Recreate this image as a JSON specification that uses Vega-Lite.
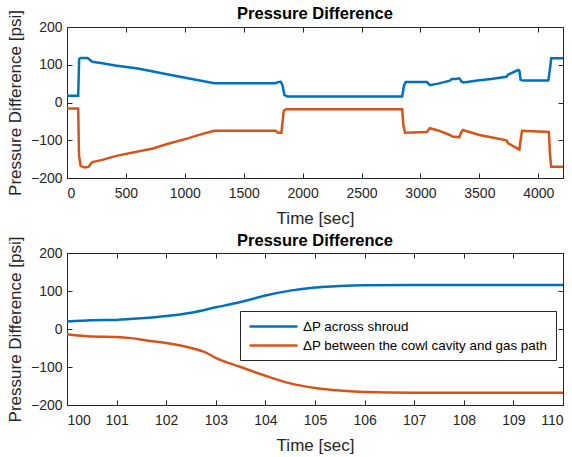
{
  "$schema": "https://vega.github.io/schema/vega-lite/v6.json",
  "padding": {"left": 5, "top": 5, "right": 0, "bottom": 0},
  "background": "white",
  "config": {
    "font": "Liberation Sans",
    "view": {"stroke": "#262626", "strokeWidth": 1},
    "axis": {
      "domain": false,
      "grid": true,
      "gridColor": "#e3e3e3",
      "gridWidth": 1,
      "tickColor": "#262626",
      "tickSize": -5,
      "labelColor": "#262626",
      "labelFontSize": 14,
      "labelFont": "Liberation Sans",
      "titleColor": "#262626",
      "titleFontSize": 17,
      "titleFontWeight": "normal",
      "titleFont": "Liberation Sans",
      "format": "d"
    },
    "axisX": {"labelPadding": 13, "titlePadding": 10},
    "axisY": {"labelPadding": 10, "titlePadding": 6},
    "title": {"fontSize": 16.5, "fontWeight": "bold", "font": "Liberation Sans", "color": "#000000", "offset": -13},
    "line": {"strokeWidth": 2.5}
  },
  "datasets": {
    "top": [
      {"t": 0, "v": 18, "s": "ΔP across shroud"},
      {"t": 95, "v": 18, "s": "ΔP across shroud"},
      {"t": 103, "v": 115, "s": "ΔP across shroud"},
      {"t": 115, "v": 118, "s": "ΔP across shroud"},
      {"t": 175, "v": 118, "s": "ΔP across shroud"},
      {"t": 190, "v": 114, "s": "ΔP across shroud"},
      {"t": 215, "v": 108, "s": "ΔP across shroud"},
      {"t": 300, "v": 104, "s": "ΔP across shroud"},
      {"t": 410, "v": 98, "s": "ΔP across shroud"},
      {"t": 600, "v": 90, "s": "ΔP across shroud"},
      {"t": 731, "v": 82, "s": "ΔP across shroud"},
      {"t": 850, "v": 75, "s": "ΔP across shroud"},
      {"t": 1025, "v": 64, "s": "ΔP across shroud"},
      {"t": 1150, "v": 57, "s": "ΔP across shroud"},
      {"t": 1250, "v": 51, "s": "ΔP across shroud"},
      {"t": 1500, "v": 51, "s": "ΔP across shroud"},
      {"t": 1770, "v": 51, "s": "ΔP across shroud"},
      {"t": 1790, "v": 54, "s": "ΔP across shroud"},
      {"t": 1815, "v": 55, "s": "ΔP across shroud"},
      {"t": 1830, "v": 45, "s": "ΔP across shroud"},
      {"t": 1845, "v": 20, "s": "ΔP across shroud"},
      {"t": 1870, "v": 16, "s": "ΔP across shroud"},
      {"t": 2845, "v": 16, "s": "ΔP across shroud"},
      {"t": 2860, "v": 45, "s": "ΔP across shroud"},
      {"t": 2875, "v": 54, "s": "ΔP across shroud"},
      {"t": 3055, "v": 54, "s": "ΔP across shroud"},
      {"t": 3080, "v": 46, "s": "ΔP across shroud"},
      {"t": 3150, "v": 50, "s": "ΔP across shroud"},
      {"t": 3250, "v": 58, "s": "ΔP across shroud"},
      {"t": 3265, "v": 62, "s": "ΔP across shroud"},
      {"t": 3300, "v": 62, "s": "ΔP across shroud"},
      {"t": 3330, "v": 64, "s": "ΔP across shroud"},
      {"t": 3350, "v": 55, "s": "ΔP across shroud"},
      {"t": 3365, "v": 53, "s": "ΔP across shroud"},
      {"t": 3500, "v": 59, "s": "ΔP across shroud"},
      {"t": 3600, "v": 62, "s": "ΔP across shroud"},
      {"t": 3730, "v": 68, "s": "ΔP across shroud"},
      {"t": 3745, "v": 74, "s": "ΔP across shroud"},
      {"t": 3830, "v": 86, "s": "ΔP across shroud"},
      {"t": 3840, "v": 84, "s": "ΔP across shroud"},
      {"t": 3850, "v": 60, "s": "ΔP across shroud"},
      {"t": 3870, "v": 58, "s": "ΔP across shroud"},
      {"t": 4085, "v": 58, "s": "ΔP across shroud"},
      {"t": 4100, "v": 90, "s": "ΔP across shroud"},
      {"t": 4110, "v": 117, "s": "ΔP across shroud"},
      {"t": 4210, "v": 117, "s": "ΔP across shroud"},
      {"t": 0, "v": -16, "s": "ΔP between the cowl cavity and gas path"},
      {"t": 95, "v": -16, "s": "ΔP between the cowl cavity and gas path"},
      {"t": 102, "v": -140, "s": "ΔP between the cowl cavity and gas path"},
      {"t": 115, "v": -168, "s": "ΔP between the cowl cavity and gas path"},
      {"t": 150, "v": -172, "s": "ΔP between the cowl cavity and gas path"},
      {"t": 185, "v": -170, "s": "ΔP between the cowl cavity and gas path"},
      {"t": 200, "v": -163, "s": "ΔP between the cowl cavity and gas path"},
      {"t": 215, "v": -158, "s": "ΔP between the cowl cavity and gas path"},
      {"t": 300, "v": -152, "s": "ΔP between the cowl cavity and gas path"},
      {"t": 410, "v": -142, "s": "ΔP between the cowl cavity and gas path"},
      {"t": 600, "v": -130, "s": "ΔP between the cowl cavity and gas path"},
      {"t": 731, "v": -122, "s": "ΔP between the cowl cavity and gas path"},
      {"t": 850, "v": -110, "s": "ΔP between the cowl cavity and gas path"},
      {"t": 1025, "v": -95, "s": "ΔP between the cowl cavity and gas path"},
      {"t": 1150, "v": -83, "s": "ΔP between the cowl cavity and gas path"},
      {"t": 1250, "v": -75, "s": "ΔP between the cowl cavity and gas path"},
      {"t": 1770, "v": -75, "s": "ΔP between the cowl cavity and gas path"},
      {"t": 1790, "v": -80, "s": "ΔP between the cowl cavity and gas path"},
      {"t": 1820, "v": -80, "s": "ΔP between the cowl cavity and gas path"},
      {"t": 1830, "v": -50, "s": "ΔP between the cowl cavity and gas path"},
      {"t": 1840, "v": -22, "s": "ΔP between the cowl cavity and gas path"},
      {"t": 1860, "v": -18, "s": "ΔP between the cowl cavity and gas path"},
      {"t": 2845, "v": -18, "s": "ΔP between the cowl cavity and gas path"},
      {"t": 2855, "v": -60, "s": "ΔP between the cowl cavity and gas path"},
      {"t": 2870, "v": -80, "s": "ΔP between the cowl cavity and gas path"},
      {"t": 3055, "v": -78, "s": "ΔP between the cowl cavity and gas path"},
      {"t": 3080, "v": -68, "s": "ΔP between the cowl cavity and gas path"},
      {"t": 3150, "v": -74, "s": "ΔP between the cowl cavity and gas path"},
      {"t": 3250, "v": -86, "s": "ΔP between the cowl cavity and gas path"},
      {"t": 3270, "v": -90, "s": "ΔP between the cowl cavity and gas path"},
      {"t": 3330, "v": -92, "s": "ΔP between the cowl cavity and gas path"},
      {"t": 3345, "v": -80, "s": "ΔP between the cowl cavity and gas path"},
      {"t": 3360, "v": -73, "s": "ΔP between the cowl cavity and gas path"},
      {"t": 3500, "v": -86, "s": "ΔP between the cowl cavity and gas path"},
      {"t": 3600, "v": -92, "s": "ΔP between the cowl cavity and gas path"},
      {"t": 3730, "v": -100, "s": "ΔP between the cowl cavity and gas path"},
      {"t": 3745, "v": -108, "s": "ΔP between the cowl cavity and gas path"},
      {"t": 3840, "v": -125, "s": "ΔP between the cowl cavity and gas path"},
      {"t": 3850, "v": -100, "s": "ΔP between the cowl cavity and gas path"},
      {"t": 3862, "v": -75, "s": "ΔP between the cowl cavity and gas path"},
      {"t": 4090, "v": -78, "s": "ΔP between the cowl cavity and gas path"},
      {"t": 4100, "v": -140, "s": "ΔP between the cowl cavity and gas path"},
      {"t": 4110, "v": -170, "s": "ΔP between the cowl cavity and gas path"},
      {"t": 4210, "v": -170, "s": "ΔP between the cowl cavity and gas path"}
    ],
    "bot": [
      {"t": 100, "v": 20, "s": "ΔP across shroud"},
      {"t": 100.5, "v": 23, "s": "ΔP across shroud"},
      {"t": 101, "v": 24, "s": "ΔP across shroud"},
      {"t": 101.5, "v": 28, "s": "ΔP across shroud"},
      {"t": 102, "v": 34, "s": "ΔP across shroud"},
      {"t": 102.5, "v": 43, "s": "ΔP across shroud"},
      {"t": 103, "v": 57, "s": "ΔP across shroud"},
      {"t": 103.5, "v": 71, "s": "ΔP across shroud"},
      {"t": 104, "v": 88, "s": "ΔP across shroud"},
      {"t": 104.5, "v": 101, "s": "ΔP across shroud"},
      {"t": 105, "v": 109, "s": "ΔP across shroud"},
      {"t": 105.5, "v": 113, "s": "ΔP across shroud"},
      {"t": 106, "v": 115, "s": "ΔP across shroud"},
      {"t": 107, "v": 116, "s": "ΔP across shroud"},
      {"t": 110, "v": 116, "s": "ΔP across shroud"},
      {"t": 100, "v": -14, "s": "ΔP between the cowl cavity and gas path"},
      {"t": 100.5, "v": -20, "s": "ΔP between the cowl cavity and gas path"},
      {"t": 101, "v": -21, "s": "ΔP between the cowl cavity and gas path"},
      {"t": 101.3, "v": -24, "s": "ΔP between the cowl cavity and gas path"},
      {"t": 101.6, "v": -30, "s": "ΔP between the cowl cavity and gas path"},
      {"t": 102, "v": -37, "s": "ΔP between the cowl cavity and gas path"},
      {"t": 102.5, "v": -50, "s": "ΔP between the cowl cavity and gas path"},
      {"t": 102.8, "v": -62, "s": "ΔP between the cowl cavity and gas path"},
      {"t": 103, "v": -76, "s": "ΔP between the cowl cavity and gas path"},
      {"t": 103.5, "v": -100, "s": "ΔP between the cowl cavity and gas path"},
      {"t": 104, "v": -123, "s": "ΔP between the cowl cavity and gas path"},
      {"t": 104.5, "v": -143, "s": "ΔP between the cowl cavity and gas path"},
      {"t": 105, "v": -155, "s": "ΔP between the cowl cavity and gas path"},
      {"t": 105.5, "v": -162, "s": "ΔP between the cowl cavity and gas path"},
      {"t": 106, "v": -166, "s": "ΔP between the cowl cavity and gas path"},
      {"t": 107, "v": -168, "s": "ΔP between the cowl cavity and gas path"},
      {"t": 110, "v": -168, "s": "ΔP between the cowl cavity and gas path"}
    ]
  },
  "spacing": 5,
  "resolve": {"scale": {"color": "independent"}, "legend": {"color": "independent"}},
  "vconcat": [
    {
      "title": "Pressure Difference",
      "width": 496,
      "height": 151,
      "data": {"name": "top"},
      "resolve": {"axis": {"x": "independent", "y": "independent"}},
      "layer": [
        {
          "mark": {"type": "line", "strokeOpacity": 0},
          "encoding": {
            "x": {"field": "t", "type": "quantitative",
                  "scale": {"domain": [0, 4210], "nice": false, "zero": false},
                  "axis": {"orient": "top", "values": [0, 500, 1000, 1500, 2000, 2500, 3000, 3500, 4000], "labels": false, "grid": false, "title": null, "minExtent": 0, "maxExtent": 0}},
            "y": {"field": "v", "type": "quantitative",
                  "scale": {"domain": [-200, 200], "nice": false},
                  "axis": {"orient": "right", "values": [-200, -100, 0, 100, 200], "labels": false, "grid": false, "title": null, "minExtent": 0, "maxExtent": 0}},
            "detail": {"field": "s", "type": "nominal"}
          }
        },
        {
          "mark": {"type": "line"},
          "encoding": {
            "x": {"field": "t", "type": "quantitative", "title": "Time [sec]",
                  "axis": {"values": [0, 500, 1000, 1500, 2000, 2500, 3000, 3500, 4000]}},
            "y": {"field": "v", "type": "quantitative", "title": "Pressure Difference [psi]",
                  "axis": {"values": [-200, -100, 0, 100, 200]}},
            "color": {"field": "s", "type": "nominal", "legend": null,
                      "scale": {"domain": ["ΔP across shroud", "ΔP between the cowl cavity and gas path"], "range": ["#0072BD", "#D95319"]}}
          }
        }
      ]
    },
    {
      "title": "Pressure Difference",
      "width": 496,
      "height": 152,
      "data": {"name": "bot"},
      "resolve": {"axis": {"x": "independent", "y": "independent"}},
      "layer": [
        {
          "mark": {"type": "line", "strokeOpacity": 0},
          "encoding": {
            "x": {"field": "t", "type": "quantitative",
                  "scale": {"domain": [100, 110], "nice": false, "zero": false},
                  "axis": {"orient": "top", "values": [100, 101, 102, 103, 104, 105, 106, 107, 108, 109, 110], "labels": false, "grid": false, "title": null, "minExtent": 0, "maxExtent": 0}},
            "y": {"field": "v", "type": "quantitative",
                  "scale": {"domain": [-200, 200], "nice": false},
                  "axis": {"orient": "right", "values": [-200, -100, 0, 100, 200], "labels": false, "grid": false, "title": null, "minExtent": 0, "maxExtent": 0}},
            "detail": {"field": "s", "type": "nominal"}
          }
        },
        {
          "mark": {"type": "line", "interpolate": "monotone"},
          "encoding": {
            "x": {"field": "t", "type": "quantitative", "title": "Time [sec]",
                  "axis": {"values": [100, 101, 102, 103, 104, 105, 106, 107, 108, 109, 110]}},
            "y": {"field": "v", "type": "quantitative", "title": "Pressure Difference [psi]",
                  "axis": {"values": [-200, -100, 0, 100, 200]}},
            "color": {"field": "s", "type": "nominal",
                      "scale": {"domain": ["ΔP across shroud", "ΔP between the cowl cavity and gas path"], "range": ["#0072BD", "#D95319"]},
                      "legend": {"title": null, "orient": "none", "legendX": 173, "legendY": 58,
                                 "strokeColor": "#262626", "fillColor": "white", "padding": 8,
                                 "symbolType": "M-1,0H7", "symbolSize": 144, "symbolStrokeWidth": 2.5,
                                 "labelFontSize": 13.4, "labelFont": "Liberation Sans", "labelColor": "#000000", "labelOffset": 40, "labelLimit": 400,
                                 "rowPadding": 5, "cornerRadius": 0}}
          }
        }
      ]
    }
  ]
}
